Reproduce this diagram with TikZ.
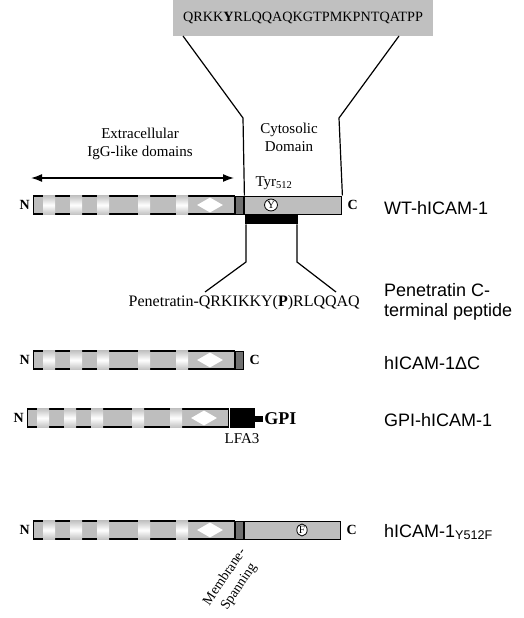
\documentclass[tikz,border=0pt]{standalone}
\usepackage{fontspec}
\setmainfont{Liberation Serif}
\setsansfont{Liberation Sans}
\usepackage{tikz}
\usetikzlibrary{shapes, arrows.meta, positioning}
\definecolor{protgray}{RGB}{190,190,190}
\definecolor{tmgray}{RGB}{112,112,112}
\definecolor{boxgray}{RGB}{192,192,192}
\tikzstyle{ecto} = [draw, fill=protgray, rectangle, line width=1.4pt, minimum height=18pt, inner sep=0pt, anchor=west]
\tikzstyle{hinge} = [rectangle, top color=protgray, bottom color=protgray, middle color=white, minimum width=12pt, minimum height=19.9pt, inner sep=0pt]
\tikzstyle{loopmark} = [diamond, fill=white, minimum width=26pt, minimum height=15pt, inner sep=0pt]
\tikzstyle{tm} = [draw, fill=tmgray, rectangle, line width=1pt, minimum width=8pt, minimum height=18pt, inner sep=0pt, anchor=west]
\tikzstyle{cyto} = [draw, fill=protgray, rectangle, line width=1pt, minimum height=18pt, inner sep=0pt, anchor=west]
\tikzstyle{term} = [font=\fontsize{14}{14}\selectfont\bfseries, inner sep=0pt]
\tikzstyle{rowlabel} = [font=\sffamily\fontsize{18}{20}\selectfont, anchor=west, align=left, inner sep=0pt]
\tikzstyle{residue} = [draw, ellipse, fill=white, inner sep=0.6pt, line width=0.8pt, font=\fontsize{11}{11}\selectfont]
\tikzstyle{serif} = [font=\fontsize{15}{18}\selectfont, inner sep=0pt]
\newcommand{\ectorow}[3]{% name, left end, y
  \node[ecto, minimum width=201pt] (#1-ecto) at (#2,#3) {};
  \foreach \hx in {16,43,70,111,149}
    \node[hinge] at (#2+\hx,#3) {};
  \node[loopmark] (#1-loop) at (#2+177,#3) {};
  \node[term, left=3pt of #1-ecto] (#1-n) {N};
}

\begin{document}
\begin{tikzpicture}[x=1pt, y=-1pt, >=latex]
    \useasboundingbox (0,0) rectangle (523,618);
    % cytoplasmic tail sequence
    \node[fill=boxgray, minimum width=260pt, minimum height=36pt, anchor=north, font=\fontsize{14.2}{14.2}\selectfont] (seq) at (303,0) {QRKK\textbf{Y}RLQQAQKGTPMKPNTQATPP};
    \node[serif, align=center] (ext-lab) at (140,144) {Extracellular\\IgG-like domains};
    \node[serif, align=center] (cyt-lab) at (289,137) {Cytosolic\\Domain};
    \coordinate (ext-l) at (31,178);
    \coordinate (ext-r) at (234,178);
    \draw[{Latex[length=11pt,width=8pt]}-{Latex[length=11pt,width=8pt]}, line width=1.5pt] (ext-l) -- (ext-r);

    % WT-hICAM-1
    \ectorow{wt}{33}{205}
    \node[tm] (wt-tm) at (wt-ecto.east) {};
    \node[cyto, minimum width=97pt] (wt-cyto) at (wt-tm.east) {};
    \node[residue] (tyr) at (271,205) {Y};
    \node[serif] (tyr-lab) at (274,183) {Tyr\textsubscript{512}};
    \node[term, right=5pt of wt-cyto] (wt-c) {C};
    \node[rowlabel] (wt-lab) at (384,208) {WT-hICAM-1};
    \coordinate (fl-top) at (183,36);
    \coordinate (fr-top) at (399,36);
    \coordinate (fl) at (243,118);
    \coordinate (fr) at (339,118);
    \draw[line width=1.2pt] (fl-top) -- (fl) -- (wt-cyto.north west);
    \draw[line width=1.2pt] (fr-top) -- (fr) -- (wt-cyto.north east);

    % penetratin peptide
    \node[fill=black, minimum width=53pt, minimum height=10pt, inner sep=0pt, anchor=north] (pen-blk) at (271.5,214) {};
    \node[font=\fontsize{16}{16}\selectfont, inner sep=0pt, anchor=east] (pen-pep) at (360,303) {Penetratin-QRKIKKY(\textbf{P})RLQQAQ};
    \coordinate (pl) at (246,262);
    \coordinate (pr) at (297,262);
    \coordinate (pl-end) at (205,292);
    \coordinate (pr-end) at (336,292);
    \draw[line width=1.2pt] (pen-blk.south west -| pl) -- (pl) -- (pl-end);
    \draw[line width=1.2pt] (pen-blk.south east -| pr) -- (pr) -- (pr-end);
    \node[rowlabel] (pen-lab) at (384,302) {Penetratin C-\\terminal peptide};

    % hICAM-1 delta C
    \ectorow{dc}{33}{360}
    \node[tm] (dc-tm) at (dc-ecto.east) {};
    \node[term, right=5pt of dc-tm] (dc-c) {C};
    \node[rowlabel] (dc-lab) at (384,363) {hICAM-1Δ{}C};

    % GPI-hICAM-1
    \ectorow{gpi}{27}{418}
    \node[fill=black, minimum width=25pt, minimum height=19.5pt, inner sep=0pt, anchor=west] (lfa) at (gpi-ecto.east) {};
    \node[fill=black, minimum width=8pt, minimum height=6pt, inner sep=0pt, anchor=west] (gpi-stub) at ([yshift=-1pt]lfa.east) {};
    \node[font=\fontsize{18}{18}\selectfont\bfseries, inner sep=0pt, anchor=west] (gpi-anchor) at ([xshift=1pt]gpi-stub.east) {GPI};
    \node[serif, below=5pt of lfa] (lfa-lab) {LFA3};
    \node[rowlabel] (gpi-lab) at (384,420) {GPI-hICAM-1};

    % hICAM-1 Y512F
    \ectorow{yf}{33}{530}
    \node[tm] (yf-tm) at (yf-ecto.east) {};
    \node[cyto, minimum width=96pt] (yf-cyto) at (yf-tm.east) {};
    \node[residue] (phe) at (302,530) {F};
    \node[term, right=5pt of yf-cyto] (yf-c) {C};
    \node[rowlabel] (yf-lab) at (384,532) {hICAM-1\textsubscript{Y512F}};
    \node[font=\fontsize{14}{17}\selectfont, align=center, rotate=56, inner sep=0pt] (tm-lab) at (232,582) {Membrane-\\Spanning};
\end{tikzpicture}
\end{document}
